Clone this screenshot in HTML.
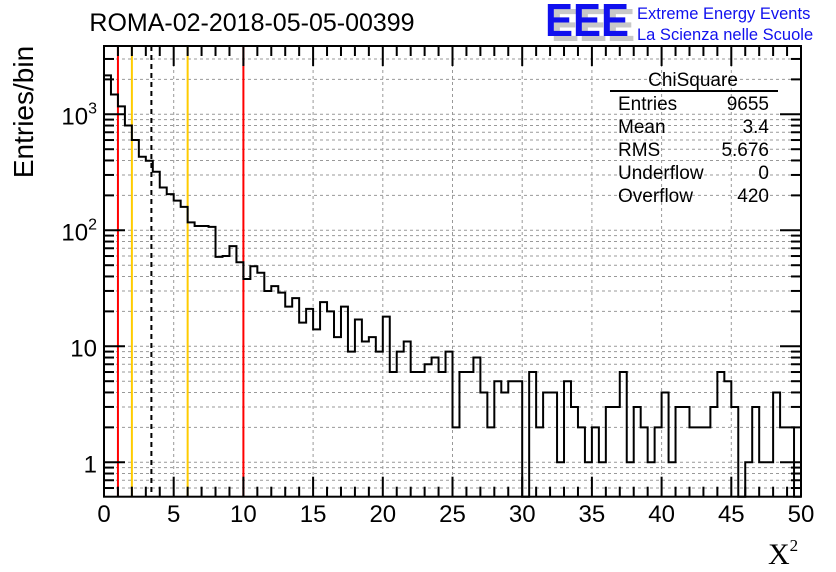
<!DOCTYPE html>
<html><head><meta charset="utf-8"><style>
body{margin:0;background:#fff;}
svg{display:block;font-family:"Liberation Sans",sans-serif;}
</style></head><body>
<svg id="c" width="836" height="572" viewBox="0 0 836 572"></svg>
<script>
const counts=[2168,1483,1170,800,601,431,398,320,234,205,180,159,117,109,109,107,59,60,73,53,38,49,43,30,33,29,22,26,16,21,14,24,20,12,22,9,17,11,12,9,18,6,9,11,6,6,7,8,6,9,2,6,6,8,4,2,5,4,5,5,0,6,2,4,4,1,5,3,2,1,2,1,3,3,6,1,3,2,1,2,4,1,3,3,2,2,2,3,6,5,3,0,1,3,1,1,4,2,2,0];
const xTicks=[0,5,10,15,20,25,30,35,40,45,50];
const yMajor=[1,10,100,1000];
const yMajorLabels=["1","10","10²","10³"];
const cutLines=[{x:1,c:"#ff0000"},{x:10,c:"#ff0000"},{x:2,c:"#ffcc00"},{x:6,c:"#ffcc00"}];
const meanVal=[3.4];

const L=104,R=801,T=46,B=496.7,xMin=0,xMax=50,yMin=0.505,yMax=3880,binW=0.5;
const X=v=>L+(v-xMin)/(xMax-xMin)*(R-L);
const Y=v=>{if(v<=0)return B;const y=B-(Math.log10(v)-Math.log10(yMin))/(Math.log10(yMax)-Math.log10(yMin))*(B-T);return Math.max(T,Math.min(B,y));};
const svg=document.getElementById('c');
const NS='http://www.w3.org/2000/svg';
function mk(t,a,p){const e=document.createElementNS(NS,t);for(const k in a)e.setAttribute(k,a[k]);(p||svg).appendChild(e);return e;}

const grid=mk('g',{});


xTicks.forEach(t=>{if(t>0&&t<50){mk('line',{x1:X(t),x2:X(t),y1:T,y2:B,stroke:'#999','stroke-width':1,'stroke-dasharray':'3,3'},grid);}});
const yAll=[];
for(let d=-1;d<=3;d++)for(let m=1;m<=9;m++){const v=m*Math.pow(10,d);if(v>yMin&&v<yMax)yAll.push(v);}
yAll.forEach(v=>{mk('line',{x1:L,x2:R,y1:Y(v),y2:Y(v),stroke:'#999','stroke-width':1,'stroke-dasharray':'3,3'},grid);});

cutLines.forEach(c=>{const l=mk('line',{x1:X(c.x),x2:X(c.x),y1:T,y2:B,stroke:c.c,'stroke-width':2});

});
meanVal.forEach(m=>{const l=mk('line',{x1:X(m),x2:X(m),y1:T,y2:B,stroke:'#000','stroke-width':2,'stroke-dasharray':'5,4'});

});

let d='M'+X(0)+','+B;
counts.forEach((c,i)=>{const y=Y(c);d+=' L'+X(i*binW)+','+y+' L'+X((i+1)*binW)+','+y;});
d+=' L'+X(counts.length*binW)+','+B;
const h=mk('path',{d:d,fill:'none',stroke:'#000','stroke-width':2});



const ax=mk('g',{stroke:'#000','stroke-width':2});


mk('rect',{x:L,y:T,width:R-L,height:B-T,fill:'none'},ax);
for(let t=0;t<=50;t++){const len=t%5===0?20:10;
mk('line',{x1:X(t),x2:X(t),y1:B,y2:B-len},ax);mk('line',{x1:X(t),x2:X(t),y1:T,y2:T+len},ax);}
yAll.forEach(v=>{const maj=yMajor.includes(v);const len=maj?21:10;
mk('line',{x1:L,x2:L+len,y1:Y(v),y2:Y(v)},ax);mk('line',{x1:R,x2:R-len,y1:Y(v),y2:Y(v)},ax);});

xTicks.forEach(t=>{const e=mk('text',{x:X(t),y:522,'font-size':24,'text-anchor':'middle'});e.textContent=t;

});
yMajor.forEach((v,i)=>{const e=mk('text',{x:97,y:Y(v)+10,'font-size':24,'text-anchor':'end'});
const lab=yMajorLabels[i];
if(lab.length>2&&lab.startsWith('10')){e.textContent='10';const s=mk('tspan',{'font-size':16,dy:-11},e);s.textContent=lab==='10²'?'2':'3';}else e.textContent=lab;

});
</script>
<svg width="836" height="572" style="position:absolute;left:0;top:0;font-family:'Liberation Sans',sans-serif">
<text x="252" y="31" font-size="25" text-anchor="middle">ROMA-02-2018-05-05-00399</text>
<text transform="translate(33,112) rotate(-90)" font-size="28" text-anchor="middle">Entries/bin</text>
<text x="768" y="564" font-size="30" font-family="'Liberation Serif',serif">X<tspan font-size="17" dy="-13">2</tspan></text>
<g>
<text x="551" y="41" font-size="46" font-weight="bold" fill="#c8c8c8" textLength="84" lengthAdjust="spacingAndGlyphs">EEE</text>
<text x="545" y="36" font-size="46" font-weight="bold" fill="#1010ee" textLength="84" lengthAdjust="spacingAndGlyphs">EEE</text>
<text x="637" y="19" font-size="16.5" fill="#1010ee">Extreme Energy Events</text>
<text x="637" y="40" font-size="16.5" fill="#1010ee">La Scienza nelle Scuole</text>
</g>
<g font-size="19">
<text x="693" y="86" text-anchor="middle">ChiSquare</text>
<line x1="610" x2="778" y1="91" y2="91" stroke="#000" stroke-width="2"/>
<text x="618" y="110">Entries</text><text x="769" y="110" text-anchor="end">9655</text>
<text x="618" y="133">Mean</text><text x="769" y="133" text-anchor="end">3.4</text>
<text x="618" y="156">RMS</text><text x="769" y="156" text-anchor="end">5.676</text>
<text x="618" y="179">Underflow</text><text x="769" y="179" text-anchor="end">0</text>
<text x="618" y="202">Overflow</text><text x="769" y="202" text-anchor="end">420</text>
</g>
</svg>
</body></html>
